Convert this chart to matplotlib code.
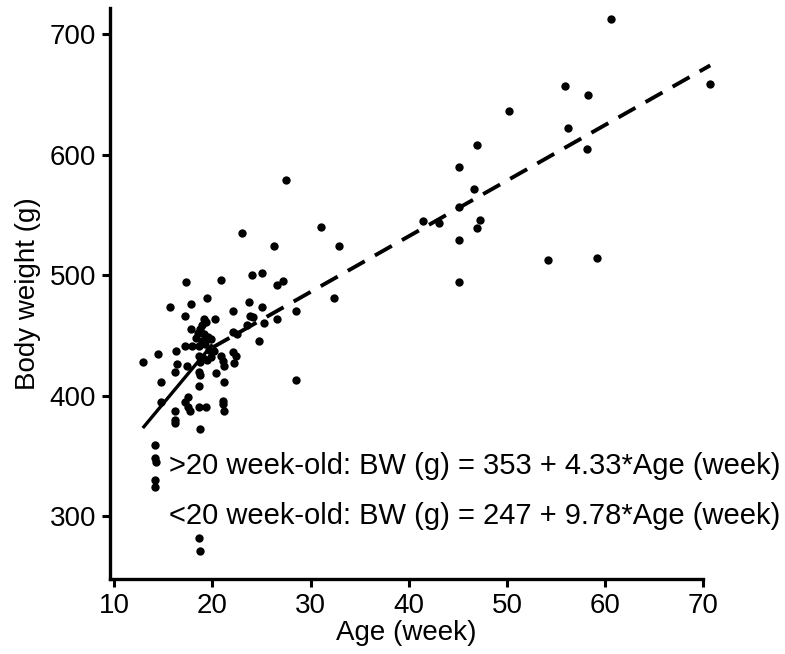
import matplotlib
matplotlib.use("Agg")
import matplotlib.pyplot as plt
import numpy as np

plt.rcParams['font.family'] = ['Liberation Sans', 'DejaVu Sans']

age_week = [
    60.6, 55.9, 58.2, 50.2, 70.7, 56.2, 58.1, 46.9, 45.1, 46.6,
    45.1, 41.4, 43.1, 47.2, 46.9, 45.1, 54.2, 59.2, 45.1, 27.5,
    23.0, 31.1, 26.3, 32.9, 20.9, 24.0, 25.0, 27.2, 26.6, 32.4,
    19.4, 23.7, 25.0, 22.1, 28.5, 17.3, 15.7, 17.8, 17.2, 20.3,
    19.1, 18.9, 23.8, 24.1, 23.5, 25.2, 26.6, 17.8, 18.7, 22.1,
    22.5, 24.7, 18.5, 19.1, 19.5, 19.8, 19.3, 12.9, 14.4, 16.3,
    17.2, 17.9, 18.6, 16.4, 16.2, 17.4, 14.8, 14.8, 18.6, 18.7,
    18.6, 17.5, 17.2, 16.2, 17.5, 17.7, 18.6, 19.3, 16.2, 16.2,
    18.7, 20.9, 21.1, 21.2, 22.1, 22.4, 22.2, 20.4, 21.2, 21.1,
    21.1, 21.2, 14.1, 14.1, 14.2, 14.1, 14.1, 18.6, 18.7, 28.5,
    18.9, 19.2, 18.6, 19.0, 19.4, 19.8, 18.7, 20.2, 18.3, 19.6,
]
body_weight = [
    713, 657, 650, 636, 659, 622, 605, 608, 590, 572,
    557, 545, 543, 546, 539, 529, 513, 514, 494, 579,
    535, 540, 524, 524, 496, 500, 502, 495, 492, 481,
    481, 478, 474, 470, 470, 494, 474, 476, 466, 464,
    464, 459, 466, 465, 459, 460, 464, 455, 455, 453,
    451, 445, 452, 451, 449, 447, 461, 428, 435, 437,
    441, 441, 441, 426, 420, 425, 411, 395, 420, 417,
    408, 399, 395, 387, 391, 387, 391, 391, 380, 377,
    372, 433, 429, 425, 436, 433, 427, 419, 411, 396,
    393, 387, 359, 348, 345, 330, 324, 282, 271, 413,
    445, 443, 433, 431, 430, 432, 428, 437, 448, 438,
]

# regression lines as drawn in the figure
young_range = [12.9, 20.0]
young_intercept, young_slope = 247, 9.78
old_range = [20.0, 70.7]
old_intercept, old_slope = 347.6, 4.62

eq_old = ">20 week-old: BW (g) = 353 + 4.33*Age (week)"
eq_young = "<20 week-old: BW (g) = 247 + 9.78*Age (week)"

fig = plt.figure(figsize=(7.85, 6.54), dpi=100)
ax = fig.add_axes([0.140, 0.115, 0.756, 0.873])

ax.scatter(age_week, body_weight, s=36, color='black', zorder=3,
           clip_on=False, linewidths=0)

xy = np.array(young_range)
ax.plot(xy, young_intercept + young_slope * xy, color='black', lw=2.4,
        solid_capstyle='butt')
xo = np.array(old_range)
ax.plot(xo, old_intercept + old_slope * xo, color='black', lw=2.8,
        dashes=(5, 3.0), clip_on=False)

ax.text(15.6, 342, eq_old, fontsize=21, va='center', ha='left')
ax.text(15.6, 300.5, eq_young, fontsize=21, va='center', ha='left')

ax.set_xlim(9.55, 70)
ax.set_ylim(248, 722)
ax.set_xticks([10, 20, 30, 40, 50, 60, 70])
ax.set_yticks([300, 400, 500, 600, 700])

for s in ['top', 'right']:
    ax.spines[s].set_visible(False)
for s in ['left', 'bottom']:
    ax.spines[s].set_linewidth(2.4)

ax.tick_params(axis='both', which='major', direction='out', length=6,
               width=2.2, labelsize=20, pad=4)
ax.set_xlabel('Age (week)', fontsize=20, labelpad=1)
ax.set_ylabel('Body weight (g)', fontsize=20, labelpad=6)

fig.savefig('out.png', dpi=100)
